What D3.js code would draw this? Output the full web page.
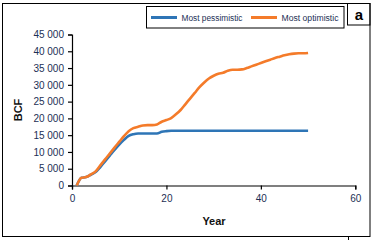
<!DOCTYPE html>
<html>
<head>
<meta charset="utf-8">
<script src="https://cdn.jsdelivr.net/npm/d3@7"></script>
<style>
  body { margin: 0; background: #fff; }
  svg text { font-family: "Liberation Sans", Arial, sans-serif; }
</style>
</head>
<body>
<div class="vis"></div>
<script>
// data
const years = [1,2,3,4,5,6,7,8,9,10,11,12,13,14,15,16,17,18,19,20,21,22,23,24,25,
    26,27,28,29,30,31,32,33,34,35,36,37,38,39,40,41,42,43,44,45,46,47,48,49,50];
const pessimistic = [0,2300,2500,3200,4000,5500,7200,8900,10600,12200,13600,14800,15300,15500,15500,15500,15500,15500,16000,16200,16300,
    16300,16300,16300,16300,16300,16300,16300,16300,16300,16300,16300,16300,16300,16300,16300,16300,16300,16300,16300,
    16300,16300,16300,16300,16300,16300,16300,16300,16300,16300];
const optimistic = [0,2300,2500,3300,4200,6000,7800,9500,11300,13000,14700,16200,17100,17500,17900,18000,18000,18200,19000,19500,
    20100,21200,22500,24200,25900,27600,29300,30700,31900,32700,33300,33600,34200,34500,34500,34600,35000,35500,36000,36500,
    37000,37500,38000,38400,38800,39100,39300,39400,39400,39500];
const seriesNames = ["Most pessimistic", "Most optimistic"];
const xTicks = [0, 20, 40, 60];
const yTicks = [0,5000,10000,15000,20000,25000,30000,35000,40000,45000];

const config = {
    blue: "#2e75b6",
    orange: "#f47b2a",
    tickColor: "#1c2f55"
};

const W = 375, H = 240;
const svg = d3.select(".vis").append("svg")
    .attr("width", W).attr("height", H);

// frame + panel tag
svg.append("rect").attr("x", 2.5).attr("y", 3.5).attr("width", 367.5).attr("height", 233)
    .attr("fill", "none").attr("stroke", "#000").attr("stroke-width", 1);
svg.append("line").attr("x1", 348.5).attr("x2", 348.5).attr("y1", 236.5).attr("y2", 240)
    .attr("stroke", "#000");
svg.append("rect").attr("x", 347.5).attr("y", 3.5).attr("width", 22.5).attr("height", 21.5)
    .attr("fill", "none").attr("stroke", "#000");
svg.append("text").attr("x", 358.8).attr("y", 19.5)
    .attr("text-anchor", "middle").attr("font-size", 15).attr("font-weight", "bold")
    .attr("fill", "#000").text("a");

const x = d3.scaleLinear().domain([0, 60]).range([72, 355.3]);
const y = d3.scaleLinear().domain([0, 45000]).range([185.5, 34.5]);

const fmt = d => d3.format(",")(d).replace(/,/g, " ");

const axisX = svg.append("g")
    .attr("transform", "translate(0,185.5)")
    .call(d3.axisBottom(x).tickValues(xTicks).tickSize(4).tickPadding(5));
const axisY = svg.append("g")
    .attr("transform", "translate(72,0)")
    .call(d3.axisLeft(y).tickValues(yTicks).tickFormat(fmt).tickSize(4).tickPadding(4));

[axisX, axisY].forEach(a => {
    a.select(".domain").attr("stroke", "#000").attr("stroke-width", 1.2);
    a.selectAll(".tick line").attr("stroke", "#000").attr("stroke-width", 1.2);
    a.selectAll("text").attr("fill", config.tickColor)
        .style("font-family", '"Liberation Sans", Arial, sans-serif').attr("font-size", 10);
});

// axis titles
svg.append("text").attr("x", 214).attr("y", 225)
    .attr("text-anchor", "middle").attr("font-size", 11).attr("font-weight", "bold")
    .attr("fill", "#111").text("Year");
svg.append("text").attr("transform", "translate(22,110) rotate(-90)")
    .attr("text-anchor", "middle").attr("font-size", 11).attr("font-weight", "bold")
    .attr("fill", "#111").text("BCF");

/* draw lines */
const line = d3.line()
    .x((d, i) => x(years[i]))
    .y(d => y(d))
    .curve(d3.curveMonotoneX);

svg.append("path").datum(pessimistic)
    .attr("fill", "none").attr("stroke", config.blue).attr("stroke-width", 2.6)
    .attr("d", line);
svg.append("path").datum(optimistic)
    .attr("fill", "none").attr("stroke", config.orange).attr("stroke-width", 2.6)
    .attr("d", line);

// legend
const legend = svg.append("g");
legend.append("rect").attr("x", 146.5).attr("y", 6.5).attr("width", 197.5).attr("height", 21.5)
    .attr("fill", "#fff").attr("stroke", "#000");
const items = [
    {name: seriesNames[0], color: config.blue, x0: 151, tx: 181.5, w: 61},
    {name: seriesNames[1], color: config.orange, x0: 251, tx: 281.5, w: 57}
];
items.forEach(it => {
    legend.append("line").attr("x1", it.x0).attr("x2", it.x0 + 26)
        .attr("y1", 17.5).attr("y2", 17.5)
        .attr("stroke", it.color).attr("stroke-width", 3);
    legend.append("text").attr("x", it.tx).attr("y", 20.5)
        .attr("font-size", 8.5).attr("fill", config.tickColor)
        .attr("textLength", it.w).attr("lengthAdjust", "spacingAndGlyphs")
        .text(it.name);
});
</script>
</body>
</html>
